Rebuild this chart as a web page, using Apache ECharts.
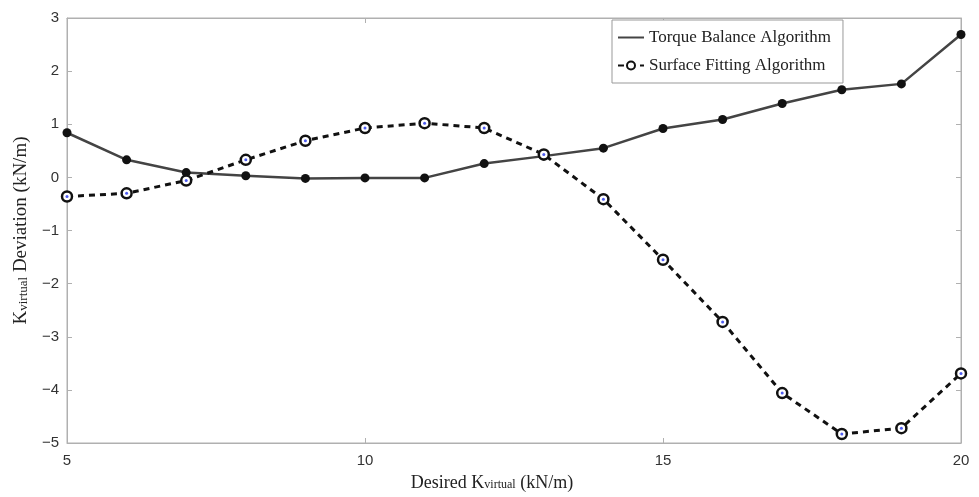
<!DOCTYPE html>
<html>
<head>
<meta charset="utf-8">
<script src="https://cdn.jsdelivr.net/npm/echarts@6/dist/echarts.min.js"></script>
<style>
  html, body { margin: 0; padding: 0; background: #fff; }
  #chart { width: 979px; height: 497px; }
</style>
</head>
<body>
<div id="chart"></div>
<script>
const kDesired = [5, 6, 7, 8, 9, 10, 11, 12, 13, 14, 15, 16, 17, 18, 19, 20];
const torqueBalance = [0.84, 0.33, 0.09, 0.03, -0.02, -0.01, -0.01, 0.26, 0.40, 0.55, 0.92, 1.09, 1.39, 1.65, 1.76, 2.69];
const surfaceFitting = [-0.36, -0.30, -0.06, 0.33, 0.69, 0.93, 1.02, 0.93, 0.43, -0.41, -1.55, -2.72, -4.06, -4.83, -4.72, -3.69];

const pairs = (ys) => kDesired.map((x, i) => [x, ys[i]]);

const chart = echarts.init(document.getElementById('chart'));

const frameColor = '#b0b0b0';
const tickLabel = { color: '#333', fontSize: 15, fontFamily: 'Liberation Sans, Arial' };
const serif = 'Liberation Serif, Times New Roman, serif';
const minus = (v) => String(v).replace('-', '\u2212');

const option = {
  animation: false,
  grid: { left: 67, right: 18, top: 18, bottom: 50, show: true, borderColor: frameColor, borderWidth: 1 },
  legend: {
    orient: 'vertical',
    left: 612,
    top: 20,
    backgroundColor: '#fff',
    borderColor: '#999',
    borderWidth: 1,
    borderRadius: 0,
    padding: [9, 12, 9, 5],
    itemGap: 11,
    itemWidth: 26,
    itemHeight: 10,
    textStyle: { fontFamily: serif, fontSize: 17, color: '#222' },
    data: [
      { name: 'Torque Balance Algorithm', itemStyle: { opacity: 0 } },
      'Surface Fitting Algorithm'
    ]
  },
  xAxis: [
    {
      type: 'value', min: 5, max: 20, interval: 5,
      axisLine: { onZero: false, lineStyle: { color: frameColor } },
      axisTick: { inside: true, length: 5, lineStyle: { color: frameColor } },
      axisLabel: Object.assign({ margin: 10 }, tickLabel),
      splitLine: { show: false },
      name: '{a|Desired K}{b|virtual}{a| (kN/m)}',
      nameLocation: 'middle',
      nameGap: 31,
      nameTextStyle: {
        padding: [0, 44, 0, 0],
        rich: {
          a: { fontFamily: serif, fontSize: 18, color: '#222' },
          b: { fontFamily: serif, fontSize: 12, color: '#222', padding: [4, 0, 0, 0] }
        }
      }
    },
    {
      type: 'value', min: 5, max: 20, interval: 5, position: 'top',
      axisLine: { onZero: false, lineStyle: { color: frameColor } },
      axisTick: { inside: true, length: 5, lineStyle: { color: frameColor } },
      axisLabel: { show: false }, splitLine: { show: false }
    }
  ],
  yAxis: [
    {
      type: 'value', min: -5, max: 3, interval: 1,
      axisLine: { show: true, onZero: false, lineStyle: { color: frameColor } },
      axisTick: { show: true, inside: true, length: 5, lineStyle: { color: frameColor } },
      axisLabel: Object.assign({ margin: 8, formatter: minus }, tickLabel),
      splitLine: { show: false },
      name: '{a|K}{b|virtual}{a| Deviation (kN/m)}',
      nameLocation: 'middle',
      nameRotate: 90,
      nameGap: 36,
      nameTextStyle: {
        rich: {
          a: { fontFamily: serif, fontSize: 19, color: '#222' },
          b: { fontFamily: serif, fontSize: 13, color: '#222', padding: [4, 0, 0, 0] }
        }
      }
    },
    {
      type: 'value', min: -5, max: 3, interval: 1, position: 'right',
      axisLine: { show: true, onZero: false, lineStyle: { color: frameColor } },
      axisTick: { show: true, inside: true, length: 5, lineStyle: { color: frameColor } },
      axisLabel: { show: false }, splitLine: { show: false }
    }
  ],
  series: [
    {
      name: 'Torque Balance Algorithm',
      type: 'line',
      data: pairs(torqueBalance),
      symbol: 'circle',
      symbolSize: 9,
      lineStyle: { color: '#444', width: 2.5 },
      itemStyle: { color: '#111' },
      z: 3
    },
    {
      name: 'Surface Fitting Algorithm',
      type: 'line',
      data: pairs(surfaceFitting),
      symbol: 'circle',
      symbolSize: 10,
      lineStyle: { color: '#111', width: 3, type: [6, 5] },
      itemStyle: { color: '#fff', borderColor: '#111', borderWidth: 2.5 },
      z: 4
    },
    {
      name: 'centres',
      type: 'scatter',
      data: pairs(surfaceFitting),
      symbol: 'circle',
      symbolSize: 3,
      itemStyle: { color: '#2233ee' },
      silent: true,
      z: 5
    }
  ]
};

chart.setOption(option);
</script>
</body>
</html>
